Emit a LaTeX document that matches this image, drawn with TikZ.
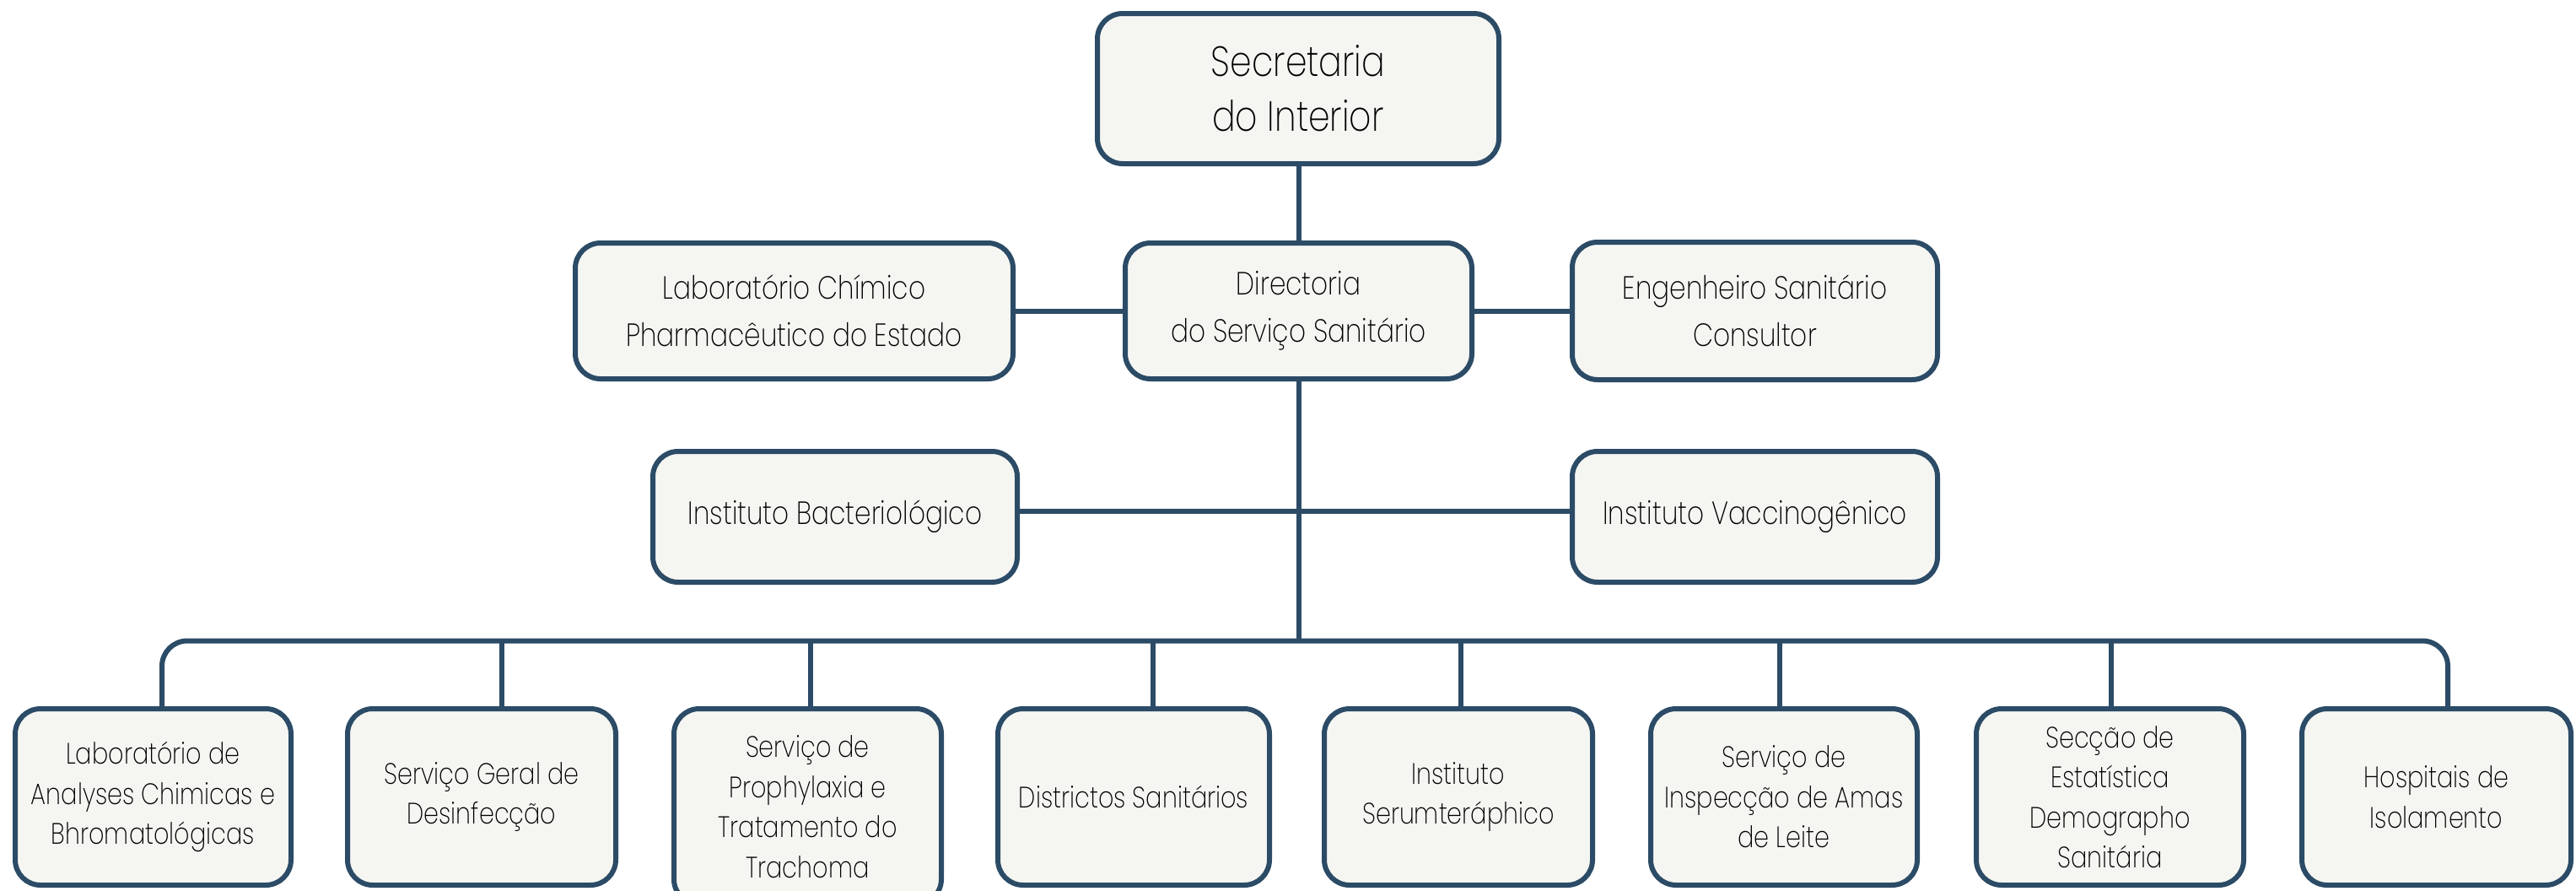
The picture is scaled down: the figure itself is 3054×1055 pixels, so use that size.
\documentclass[tikz,border=0pt]{standalone}
\usepackage{fontspec}
\IfFontExistsTF{Poppins ExtraLight}{\setmainfont{Poppins ExtraLight}[FakeStretch=0.82]}{%
  \IfFontExistsTF{Poppins Light}{\setmainfont{Poppins Light}[FakeStretch=0.82]}{\setmainfont{Poppins}[FakeStretch=0.82]}}
\definecolor{navy}{HTML}{2B4B66}
\definecolor{boxfill}{HTML}{F5F6F2}
\tikzset{
  orgbox/.style={draw=navy, fill=boxfill, line width=6pt, rounded corners=30pt,
    align=center, inner sep=0pt, text=black},
  bigtxt/.style={font=\fontsize{50}{65}\selectfont},
  midtxt/.style={font=\fontsize{38}{56}\selectfont},
  smalltxt/.style={font=\fontsize{35}{47.5}\selectfont},
  link/.style={draw=navy, line width=6pt},
}
\begin{document}
\begin{tikzpicture}[x=1pt,y=-1pt]
\useasboundingbox (0,0) rectangle (3054,1055);
% top
\node[orgbox,bigtxt,minimum width=476pt,minimum height=178pt] (sec) at (1539,105) {Secretaria\\do Interior};
\node[orgbox,midtxt,minimum width=411pt,minimum height=161pt] (dir) at (1539.5,368.5) {Directoria\\do Servi\c{c}o Sanit\'ario};
\node[orgbox,midtxt,minimum width=519pt,minimum height=161pt] (lab) at (941.5,368.5) {Laborat\'orio Ch\'imico\\Pharmac\^eutico do Estado};
\node[orgbox,midtxt,minimum width=433pt,minimum height=163pt] (eng) at (2080.5,368.5) {Engenheiro Sanit\'ario\\Consultor};
\node[orgbox,midtxt,minimum width=432pt,minimum height=155pt] (bac) at (990,612.5) {Instituto Bacteriol\'ogico};
\node[orgbox,midtxt,minimum width=433pt,minimum height=155pt] (vac) at (2080.5,612.5) {Instituto Vaccinog\^enico};
% bottom row
\node[orgbox,smalltxt,minimum width=327pt,minimum height=209pt] (b1) at (181.5,944.5) {Laborat\'orio de\\Analyses Chimicas e\\Bhromatol\'ogicas};
\node[orgbox,smalltxt,minimum width=318pt,minimum height=209pt] (b2) at (571,944.5) {Servi\c{c}o Geral de\\Desinfec\c{c}\~ao};
\node[orgbox,smalltxt,minimum width=317pt,minimum height=232pt] (b3) at (957.5,956) {Servi\c{c}o de\\Prophylaxia e\\Tratamento do\\Trachoma};
\node[orgbox,smalltxt,minimum width=322pt,minimum height=209pt] (b4) at (1344,944.5) {Districtos Sanit\'arios};
\node[orgbox,smalltxt,minimum width=318pt,minimum height=209pt] (b5) at (1729,944.5) {Instituto\\Serumter\'aphico};
\node[orgbox,smalltxt,minimum width=316pt,minimum height=209pt] (b6) at (2115,944.5) {Servi\c{c}o de\\Inspec\c{c}\~ao de Amas\\de Leite};
\node[orgbox,smalltxt,minimum width=317pt,minimum height=209pt] (b7) at (2501.5,944.5) {Sec\c{c}\~ao de\\Estat\'istica\\Demographo\\Sanit\'aria};
\node[orgbox,smalltxt,minimum width=319pt,minimum height=209pt] (b8) at (2888.5,944.5) {Hospitais de\\Isolamento};
% bus coordinates
\coordinate (hub) at (1540,759.5);
\coordinate (d1) at (192,759.5);
\coordinate (d2) at (595,759.5);
\coordinate (d3) at (961,759.5);
\coordinate (d4) at (1367,759.5);
\coordinate (d5) at (1732,759.5);
\coordinate (d6) at (2110,759.5);
\coordinate (d7) at (2503,759.5);
\coordinate (d8) at (2902,759.5);
% connectors
\draw[link] (sec.south -| hub) -- (dir.north -| hub);
\draw[link] (dir.south -| hub) -- (hub);
\draw[link] (lab.east) -- (dir.west);
\draw[link] (dir.east) -- (eng.west);
\draw[link] ([yshift=7pt]bac.east) -- ([yshift=7pt]vac.west);
\draw[link,rounded corners=30pt] (d1 |- b1.north) -- (d1) -- (d8) -- (d8 |- b8.north);
\foreach \i in {2,...,7}{\draw[link] (d\i) -- (d\i |- b\i.north);}
\end{tikzpicture}
\end{document}
